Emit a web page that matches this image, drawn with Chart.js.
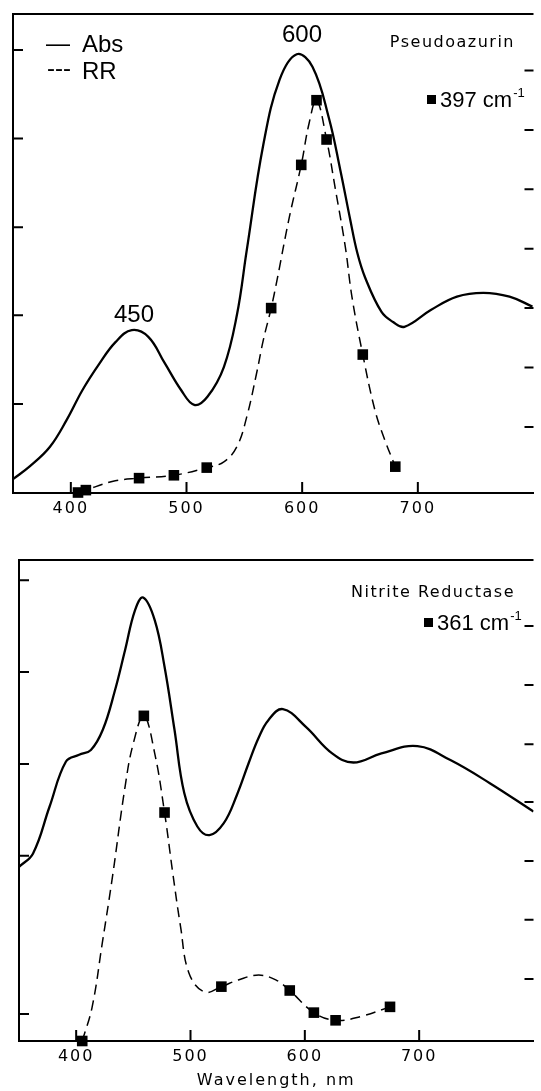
<!DOCTYPE html>
<html>
<head>
<meta charset="utf-8">
<script src="https://cdn.jsdelivr.net/npm/chart.js@4.4.1/dist/chart.umd.min.js"></script>
<style>
  html, body { margin: 0; padding: 0; background: #fff; overflow: hidden; }
  canvas { position: absolute; left: 0; }
  #topChart { top: 0; }
  #bottomChart { top: 530px; }
</style>
</head>
<body>
<canvas id="topChart" width="541" height="530"></canvas>
<canvas id="bottomChart" width="541" height="561"></canvas>
<script>
// Wavelength ticks (nm)
var xTicks = [400, 500, 600, 700];

// Pseudoazurin - absorption spectrum
var absTopNm = [350, 364.7, 381.8, 396.3, 410.1, 424.4, 438.6, 452.7, 467.0, 481.2, 495.3, 506.7, 518.1, 532.3, 543.6, 552.1, 566.4, 580.5, 595.3, 608.9, 623.1, 633.0, 641.6, 647.6, 654.4, 668.6, 678.6, 688.4, 711.2, 733.8, 756.6, 779.3, 799.1];
var absTop   = [2.9, 5.6, 9.6, 15.2, 21.5, 26.9, 31.5, 34.0, 32.6, 27.1, 21.5, 18.4, 20.1, 26.3, 37.2, 50.7, 72.7, 86.3, 91.6, 89.0, 78.3, 67.4, 57.0, 50.2, 45.0, 37.8, 35.7, 34.7, 38.2, 41.0, 41.8, 41.0, 38.9];
// Pseudoazurin - RR excitation profile (dashed curve)
var rrTopNm = [406.2, 413.0, 435.7, 459.0, 489.1, 517.5, 532.3, 543.6, 552.1, 560.6, 566.4, 573.2, 578.3, 589.0, 599.2, 606.0, 612.4, 621.1, 628.8, 637.3, 643.0, 652.4, 662.9, 671.4, 680.5];
var rrTop   = [0.1, 0.6, 2.4, 3.1, 3.7, 5.3, 6.5, 9.7, 15.9, 25.0, 31.9, 38.6, 44.5, 57.7, 68.5, 77.2, 82.0, 73.8, 63.3, 51.4, 41.0, 28.9, 17.3, 11.1, 5.5];
// Pseudoazurin - 397 cm-1 measured points
var ptTopNm = [406.2, 413.0, 459.0, 489.1, 517.5, 573.2, 599.2, 612.4, 621.1, 652.4, 680.5];
var ptTop   = [0.1, 0.6, 3.1, 3.7, 5.3, 38.6, 68.5, 82.0, 73.8, 28.9, 5.5];

// Nitrite Reductase - absorption spectrum
var absBotNm = [350.0, 362.3, 376.7, 391.1, 402.6, 412.9, 423.3, 433.6, 442.8, 451.5, 458.6, 468.7, 477.3, 486.0, 494.6, 506.0, 516.6, 529.1, 540.5, 550.9, 559.5, 568.1, 580.8, 600.9, 623.9, 642.5, 667.0, 698.5, 727.3, 761.8, 800.0];
var absBot   = [36.2, 39.0, 48.7, 58.1, 59.5, 60.5, 64.7, 72.6, 81.3, 89.6, 92.2, 87.5, 77.8, 64.7, 51.5, 44.6, 42.8, 45.3, 51.1, 57.8, 63.0, 66.7, 69.0, 65.3, 59.8, 57.9, 59.8, 61.3, 58.4, 53.6, 47.7];
// Nitrite Reductase - RR excitation profile (dashed curve)
var rrBotNm = [405.3, 414.0, 422.8, 431.6, 442.8, 450.0, 459.2, 468.7, 477.3, 484.5, 491.3, 498.7, 512.1, 527.0, 541.8, 559.7, 574.6, 586.8, 607.9, 626.9, 649.0, 674.5];
var rrBot   = [0, 7.1, 20.3, 33.9, 52.9, 61.9, 67.6, 59.8, 47.5, 34.9, 23.8, 14.1, 10.2, 11.3, 12.7, 13.7, 12.7, 10.5, 5.9, 4.3, 5.1, 7.1];
// Nitrite Reductase - 361 cm-1 measured points
var ptBotNm = [405.3, 459.2, 477.3, 527.0, 586.8, 607.9, 626.9, 674.5];
var ptBot   = [0, 67.6, 47.5, 11.3, 10.5, 5.9, 4.3, 7.1];

// inner tick marks of the frame (same units as the data)
var leftTicksTop  = [18.6, 37.1, 55.5, 74.0, 92.5];
var rightTicksTop = [13.8, 26.2, 38.6, 51.0, 63.4, 75.8, 88.2];
var leftTicksBot  = [5.6, 38.5, 57.6, 76.7, 95.8];
var rightTicksBot = [12.9, 25.2, 37.4, 49.7, 61.7, 74.0, 86.3];

function pairs(xs, ys) {
	return xs.map(function(v, i) { return {x: v, y: ys[i]}; });
}

var big = '24px "Liberation Sans"';
var mid = '22px "Liberation Sans"';
var round = '16px "DejaVu Sans"';

// frame, inward ticks and the texts written on the plot
var frame = {
	id: 'frame',
	beforeDraw: function(chart) {
		chart.ctx.letterSpacing = '2px';
	},
	afterDraw: function(chart, args, o) {
		var ctx = chart.ctx, a = chart.chartArea;
		var x = chart.scales.x, y = chart.scales.y;
		ctx.save();
		ctx.letterSpacing = '0px';
		ctx.strokeStyle = '#000';
		ctx.lineWidth = 2;
		ctx.beginPath();
		ctx.moveTo(a.left, a.bottom + 1);
		ctx.lineTo(a.left, a.top);
		ctx.lineTo(a.right, a.top);
		o.leftTicks.forEach(function(v) {
			var p = y.getPixelForValue(v);
			ctx.moveTo(a.left, p); ctx.lineTo(a.left + 10, p);
		});
		o.rightTicks.forEach(function(v) {
			var p = y.getPixelForValue(v);
			ctx.moveTo(a.right - 9, p); ctx.lineTo(a.right, p);
		});
		xTicks.forEach(function(v) {
			var p = x.getPixelForValue(v);
			ctx.moveTo(p, a.bottom); ctx.lineTo(p, a.bottom - 11);
		});
		ctx.stroke();

		ctx.fillStyle = '#000';
		ctx.textBaseline = 'alphabetic';
		o.notes.forEach(function(n) {
			ctx.font = n.font;
			ctx.textAlign = n.align || 'left';
			ctx.letterSpacing = (n.spacing || 0) + 'px';
			ctx.fillText(n.text, n.x, n.y);
			if (n.sup) {
				var w = ctx.measureText(n.text).width;
				ctx.font = '13px "Liberation Sans"';
				ctx.fillText(n.sup, n.x + w + 1, n.y - 10);
			}
			if (n.mark) ctx.fillRect(n.x - 13, n.y - 12, 9, 9);
		});
		ctx.restore();
	}
};

function panel(id, abs, rr, pts, padding, axisHeight, frameOpts, showTitle) {
	return new Chart(document.getElementById(id), {
		type: 'line',
		data: {
			datasets: [{
				label: 'Abs',
				data: abs,
				borderColor: '#000',
				borderWidth: 2.3,
				pointRadius: 0,
				tension: 0.4
			}, {
				label: 'RR',
				data: rr,
				borderColor: '#000',
				borderWidth: 1.5,
				borderDash: [10, 6],
				pointRadius: 0,
				tension: 0.4
			}, {
				label: 'RR points',
				data: pts,
				showLine: false,
				pointStyle: 'rect',
				pointRadius: 7.5,
				pointBackgroundColor: '#000',
				pointBorderWidth: 0,
				clip: false
			}]
		},
		options: {
			responsive: false,
			animation: false,
			layout: { padding: padding },
			plugins: {
				legend: { display: false },
				tooltip: { enabled: false },
				frame: frameOpts
			},
			scales: {
				x: {
					type: 'linear',
					min: 350,
					max: 800,
					afterBuildTicks: function(s) { s.ticks = xTicks.map(function(v) { return {value: v}; }); },
					afterFit: function(s) { s.height = axisHeight; },
					ticks: { font: { family: 'DejaVu Sans', size: 16 }, color: '#000', padding: 6, maxRotation: 0, autoSkip: false },
					grid: { display: false, drawTicks: false },
					border: { display: true, color: '#000', width: 2 },
					title: {
						display: showTitle,
						text: 'Wavelength, nm',
						color: '#000',
						font: { family: 'DejaVu Sans', size: 16 },
						padding: { top: 0, bottom: 1 }
					}
				},
				y: { min: 0, max: 100, display: false }
			}
		},
		plugins: [frame]
	});
}

// Grafico de cima (Pseudoazurin)
panel('topChart',
	pairs(absTopNm, absTop), pairs(rrTopNm, rrTop), pairs(ptTopNm, ptTop),
	{ left: 13, top: 14, right: 0, bottom: 0 }, 37, {
		leftTicks: leftTicksTop,
		rightTicks: rightTicksTop,
		notes: [
			{ text: '\u2014', x: 46, y: 51, font: big },
			{ text: 'Abs', x: 82, y: 52, font: big },
			{ text: '---', x: 47, y: 76, font: big },
			{ text: 'RR', x: 82, y: 79, font: big },
			{ text: '600', x: 302, y: 42, font: big, align: 'center' },
			{ text: '450', x: 134, y: 322, font: big, align: 'center' },
			{ text: 'Pseudoazurin', x: 515, y: 47, font: round, align: 'right', spacing: 1.5 },
			{ text: '397 cm', x: 440, y: 107, font: mid, sup: '-1', mark: true }
		]
	}, false);

// Grafico de baixo (Nitrite Reductase)
panel('bottomChart',
	pairs(absBotNm, absBot), pairs(rrBotNm, rrBot), pairs(ptBotNm, ptBot),
	{ left: 19, top: 30, right: 0, bottom: 0 }, 50, {
		leftTicks: leftTicksBot,
		rightTicks: rightTicksBot,
		notes: [
			{ text: 'Nitrite Reductase', x: 515, y: 67, font: round, align: 'right', spacing: 1.5 },
			{ text: '361 cm', x: 437, y: 100, font: mid, sup: '-1', mark: true }
		]
	}, true);
</script>
</body>
</html>
